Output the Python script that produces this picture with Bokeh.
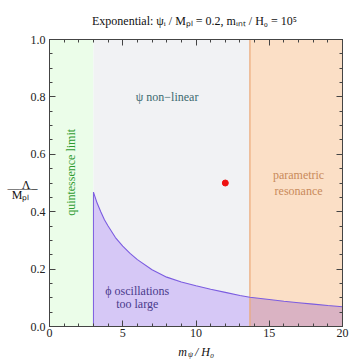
import numpy as np
from bokeh.plotting import figure
from bokeh.models import (Range1d, LinearAxis, Label, FixedTicker,
                          SingleIntervalTicker)
from bokeh.embed import file_html
from bokeh.resources import INLINE

# ---------------- data ----------------
curve_x = [3.0, 3.25, 3.5, 3.75, 4.0, 4.5, 5.0, 5.5, 6.0, 7.0, 8.0, 9.0, 10.0,
           11.0, 12.0, 13.0, 13.68, 15.0, 16.0, 17.0, 18.0, 19.0, 20.0]
curve_y = [0.468, 0.43, 0.40, 0.372, 0.35, 0.31, 0.28, 0.255, 0.233, 0.198,
           0.172, 0.155, 0.142, 0.130, 0.119, 0.108, 0.102, 0.094, 0.088,
           0.083, 0.078, 0.073, 0.069]
quint_limit = 3.0          # m/H0 below which: quintessence limit
param_res = 13.68          # m/H0 above which: parametric resonance
x_max = 20.0
point_x = [12.0]
point_y = [0.5]
x_ticks = [0, 5, 10, 15, 20]
y_ticks = [0.0, 0.2, 0.4, 0.6, 0.8, 1.0]

SERIF = "Liberation Serif, Times New Roman, serif"

p = figure(width=350, height=361, output_backend="svg", toolbar_location=None,
           x_range=Range1d(0, 20), y_range=Range1d(0, 1),
           min_border_left=49, min_border_right=8, min_border_top=37,
           min_border_bottom=32, background_fill_color="white",
           border_fill_color="white")
p.title.text = "Exponential: \u03c8\u1d62 / M\u209a\u2097 = 0.2,  m\u1d62\u2099\u209c / H\u2080 = 10\u2075"
p.title.text_font = SERIF
p.title.text_font_size = "12px"
p.title.text_font_style = "normal"
p.title.align = "center"
p.title.text_color = "#111111"
p.title.standoff = 23
p.grid.visible = False
p.outline_line_color = "#444444"

# regions
p.quad(left=0, right=quint_limit, bottom=0, top=1, fill_color="#ebfde9", line_color=None)
p.quad(left=quint_limit, right=param_res, bottom=0, top=1, fill_color="#f1f2f4", line_color=None)
p.quad(left=param_res, right=x_max, bottom=0, top=1, fill_color="#fbdfc6", line_color=None)

cx = np.array(curve_x)
cy = np.array(curve_y)
left = cx <= param_res
right = cx >= param_res
p.varea(x=cx[left], y1=0, y2=cy[left], fill_color="#d6c8f6")
p.varea(x=cx[right], y1=0, y2=cy[right], fill_color="#dab3c3")

p.segment(x0=[param_res], y0=[0], x1=[param_res], y1=[1], line_color="#eba775", line_width=1.2)
p.segment(x0=[quint_limit], y0=[0], x1=[quint_limit], y1=[curve_y[0]], line_color="#7b5ce0", line_width=1)
p.line(cx, cy, line_color="#7b5ce0", line_width=1.1)

p.scatter(point_x, point_y, size=6, color="#ee1111")

# region texts
def lab(x, y, t, color, size="12px", angle=0, style="normal"):
    p.add_layout(Label(x=x, y=y, text=t, text_color=color, text_font=SERIF,
                       text_font_size=size, text_align="center",
                       text_baseline="middle", angle=angle, text_font_style=style))

lab(1.48, 0.537, "quintessence limit", "#2e9b2e", angle=np.pi / 2)
lab(8.03, 0.80, "\u03c8 non\u2212linear", "#3d6a70")
lab(17.0, 0.527, "parametric", "#c98a5a")
lab(17.0, 0.473, "resonance", "#c98a5a")
lab(5.99, 0.124, "\u03d5 oscillations", "#4a3b8c")
lab(5.99, 0.078, "too large", "#4a3b8c")

# axes styling
def style_axis(ax, show_labels):
    ax.axis_line_color = "#444444"
    ax.major_tick_line_color = "#444444"
    ax.minor_tick_line_color = "#444444"
    ax.major_tick_in = 6
    ax.major_tick_out = 0
    ax.minor_tick_in = 3
    ax.minor_tick_out = 0
    ax.major_label_text_font = SERIF
    if show_labels:
        ax.major_label_text_font_size = "12px"
        ax.major_label_text_color = "#222222"
    else:
        ax.major_label_text_font_size = "1px"
        ax.major_label_text_color = None

p.xaxis.ticker = SingleIntervalTicker(interval=5, num_minor_ticks=5)
p.yaxis.ticker = SingleIntervalTicker(interval=0.2, num_minor_ticks=4)
p.yaxis.major_label_overrides = {v: f"{v:.1f}" for v in y_ticks}
p.xaxis.major_label_overrides = {v: str(v) for v in x_ticks}
style_axis(p.xaxis[0], True)
style_axis(p.yaxis[0], True)
p.xaxis.major_label_standoff = 2
p.yaxis.major_label_standoff = 4

top_ax = LinearAxis(ticker=SingleIntervalTicker(interval=5, num_minor_ticks=5))
right_ax = LinearAxis(ticker=SingleIntervalTicker(interval=0.2, num_minor_ticks=4))
style_axis(top_ax, False)
style_axis(right_ax, False)
p.add_layout(top_ax, "above")
p.add_layout(right_ax, "right")

# helper: a tick-less axis used to carry one label piece
def text_axis(ticks, labels, size, style, standoff, horizontal=False):
    ax = LinearAxis(ticker=FixedTicker(ticks=ticks, minor_ticks=[]))
    ax.major_label_overrides = dict(zip(ticks, labels))
    ax.axis_line_color = None
    ax.major_tick_line_color = None
    ax.minor_tick_line_color = None
    ax.major_tick_in = 0
    ax.major_tick_out = 0
    ax.minor_tick_in = 0
    ax.minor_tick_out = 0
    ax.major_label_text_font = SERIF
    ax.major_label_text_font_size = size
    ax.major_label_text_font_style = style
    ax.major_label_text_color = "#111111"
    ax.major_label_standoff = standoff
    if horizontal:
        ax.major_label_orientation = "horizontal"
    return ax

# y label: Lambda over M_Pl as a stacked fraction (one axis per piece)
p.add_layout(text_axis([0.494], ["\u039b"], "12px", "normal", -3, True), "left")
p.add_layout(text_axis([0.481], ["\u2014\u2014\u2013"], "12px", "normal", -19, True), "left")
p.add_layout(text_axis([0.457], ["M\u209a\u2097"], "12px", "normal", -25, True), "left")

# x label: m_psi / H_0  (subscript band first, main band pulled back up)
xlab_sub = text_axis([9.62], ["\u03c8"], "8px", "italic", 10)
xlab_main = text_axis([9.08, 10.58], ["m", "/ H\u2080"], "12px", "italic", -17)
p.add_layout(xlab_sub, "below")
p.add_layout(xlab_main, "below")

open("out.html", "w").write(file_html(p, INLINE))
